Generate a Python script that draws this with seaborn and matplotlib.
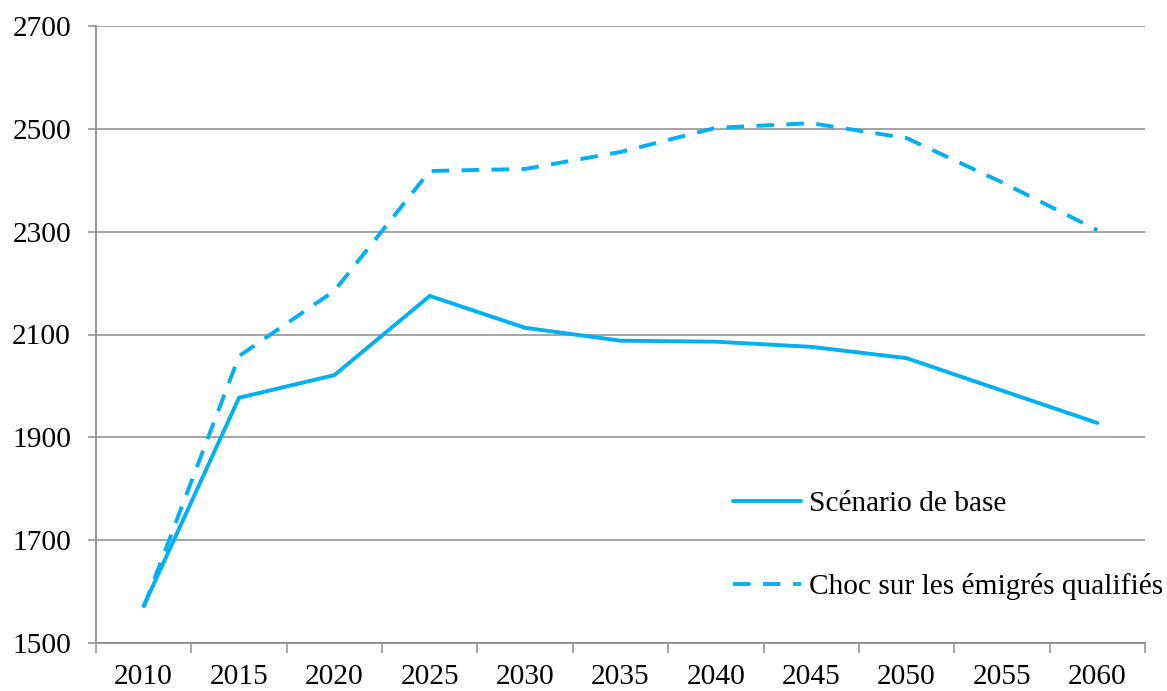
import numpy as np
import pandas as pd
import seaborn as sns
import matplotlib
matplotlib.use('Agg')
import matplotlib.pyplot as plt
from matplotlib.ticker import FixedLocator, NullFormatter, FixedFormatter

years = [2010, 2015, 2020, 2025, 2030, 2035, 2040, 2045, 2050, 2055, 2060]
base = [1572, 1977, 2021, 2175, 2113, 2088, 2086, 2076, 2054, 1991, 1928]
choc = [1570, 2058, 2185, 2418, 2422, 2455, 2502, 2511, 2482, 2396, 2303]
series_names = ['Scénario de base', 'Choc sur les émigrés qualifiés']
yticks = [1500, 1700, 1900, 2100, 2300, 2500, 2700]

line_color = '#00B0F0'
grid_color = '#8C8C8C'
fs = 21.2

sns.set_theme(style='white')
plt.rcParams['font.family'] = ['Liberation Serif', 'DejaVu Serif']

df = pd.DataFrame({
    'pos': list(range(len(years))) * 2,
    'value': base + choc,
    'serie': [series_names[0]] * len(years) + [series_names[1]] * len(years),
})

fig = plt.figure(figsize=(11.67, 6.91), dpi=100)
ax = fig.add_axes([96 / 1167, 1 - 643 / 691, (1145 - 96) / 1167, (643 - 26) / 691])

sns.lineplot(data=df, x='pos', y='value', hue='serie', style='serie',
             palette=[line_color, line_color],
             dashes={series_names[0]: '', series_names[1]: (4.5, 3.2)},
             linewidth=2.8, ax=ax)

ax.set_xlim(-0.5, len(years) - 0.5)
ax.set_ylim(1500, 2700)
ax.set_xlabel('')
ax.set_ylabel('')

# y axis
ax.set_yticks(yticks)
ax.set_yticklabels([str(v) for v in yticks])
ax.yaxis.grid(True, color=grid_color, linewidth=1.1)
ax.xaxis.grid(False)

# x axis: tick marks between categories, labels on categories
ax.xaxis.set_major_locator(FixedLocator(np.arange(-0.5, len(years), 1.0)))
ax.xaxis.set_major_formatter(NullFormatter())
ax.xaxis.set_minor_locator(FixedLocator(np.arange(len(years))))
ax.xaxis.set_minor_formatter(FixedFormatter([str(y) for y in years]))
ax.tick_params(axis='x', which='major', direction='out', length=7, width=1.1,
               color=grid_color, bottom=True)
ax.tick_params(axis='x', which='minor', length=0, labelsize=fs, pad=15,
               labelcolor='black', bottom=True)
ax.tick_params(axis='y', direction='out', length=6, width=1.1, color=grid_color,
               labelsize=fs, pad=12, labelcolor='black', left=True)

for side in ['top', 'right']:
    ax.spines[side].set_visible(False)
for side in ['left', 'bottom']:
    ax.spines[side].set_color(grid_color)
    ax.spines[side].set_linewidth(1.3)

leg = ax.legend(loc='lower left', bbox_to_anchor=(0.596, 0.05), frameon=False,
                fontsize=fs, handlelength=2.3, handletextpad=0.27,
                labelspacing=1.9, borderaxespad=0, labelcolor='black')
for line in leg.get_lines():
    line.set_linewidth(2.8)

fig.savefig('out.png', dpi=100)
